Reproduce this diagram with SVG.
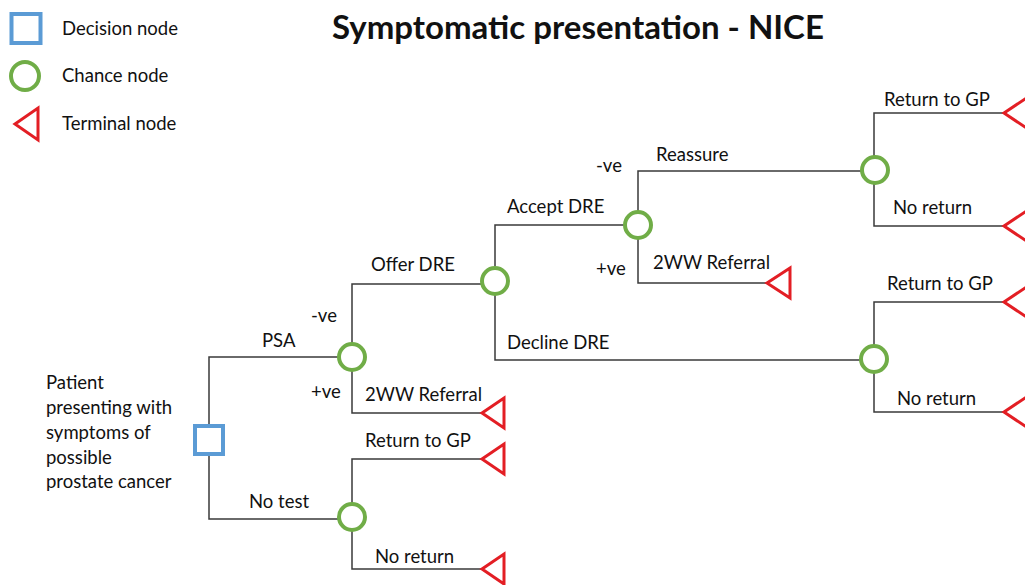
<svg xmlns="http://www.w3.org/2000/svg" width="1025" height="585" viewBox="0 0 1025 585">
<style>
.t{font-family:Lato,"Liberation Sans",sans-serif;font-size:18.5px;fill:#111}
.ttl{font-family:Lato,"Liberation Sans",sans-serif;font-size:33px;font-weight:bold;fill:#111}
.ln{fill:none;stroke:#3a3a3a;stroke-width:1.5}
.dec{fill:#fff;stroke:#5B9BD5;stroke-width:4}
.ch{fill:#fff;stroke:#70AD47;stroke-width:4}
.term{fill:#fff;stroke:#E31E24;stroke-width:3;stroke-linejoin:miter}
</style>
<rect width="1025" height="585" fill="#fff"/>
<text class="ttl" x="332" y="39">Symptomatic presentation - NICE</text>
<g id="legend">
<rect class="dec" x="11.5" y="14" width="29" height="29"/>
<circle class="ch" cx="25" cy="76" r="14"/>
<polygon class="term" points="15,124 38,108 38,140"/>
<text class="t" x="62" y="35">Decision node</text>
<text class="t" x="62" y="82">Chance node</text>
<text class="t" x="62" y="130">Terminal node</text>
</g>
<g id="connectors">
<path class="ln" d="M209,424 V357 H339 M209,456 V519 H339"/>
<path class="ln" d="M352,343 V284 H482 M352,371 V413 H482"/>
<path class="ln" d="M352,503 V459 H482 M352,531 V569 H482"/>
<path class="ln" d="M495,266 V225 H624 M495,295 V360 H860"/>
<path class="ln" d="M638,211 V171 H861 M638,239 V283 H766"/>
<path class="ln" d="M874,156 V113 H1004 M874,184 V226 H1004"/>
<path class="ln" d="M874,345 V302 H1004 M874,373 V412 H1004"/>
</g>
<g id="root">
<text class="t" x="46" y="389">Patient</text>
<text class="t" x="46" y="414">presenting with</text>
<text class="t" x="46" y="439">symptoms of</text>
<text class="t" x="46" y="464">possible</text>
<text class="t" x="46" y="488">prostate cancer</text>
<rect class="dec" x="195" y="426" width="28" height="28"/>
</g>
<g id="psa">
<circle class="ch" cx="352" cy="357" r="13"/>
<text class="t" x="262" y="347">PSA</text>
<text class="t" x="311" y="322">-ve</text>
<text class="t" x="311" y="398">+ve</text>
</g>
<g id="notest">
<circle class="ch" cx="352" cy="517" r="13"/>
<text class="t" x="249" y="508">No test</text>
</g>
<g id="psa-referral">
<polygon class="term" points="482,413 504,398 504,428"/>
<text class="t" x="365" y="401">2WW Referral</text>
</g>
<g id="notest-return">
<polygon class="term" points="482,459 504,444 504,474"/>
<text class="t" x="365" y="447">Return to GP</text>
</g>
<g id="notest-noreturn">
<polygon class="term" points="482,569 504,554 504,584"/>
<text class="t" x="375" y="563">No return</text>
</g>
<g id="offerdre">
<circle class="ch" cx="495" cy="281" r="13"/>
<text class="t" x="371" y="271">Offer DRE</text>
<text class="t" x="507" y="213">Accept DRE</text>
<text class="t" x="507" y="349">Decline DRE</text>
</g>
<g id="acceptdre">
<circle class="ch" cx="638" cy="225" r="13"/>
<text class="t" x="596" y="172">-ve</text>
<text class="t" x="596" y="275">+ve</text>
</g>
<g id="dre-referral">
<polygon class="term" points="767,283 790,268 790,298"/>
<text class="t" x="653" y="269">2WW Referral</text>
</g>
<g id="reassure">
<circle class="ch" cx="875" cy="170" r="13"/>
<text class="t" x="656" y="161">Reassure</text>
</g>
<g id="reassure-return">
<polygon class="term" points="1004,113 1028,97 1028,129"/>
<text class="t" x="884" y="106">Return to GP</text>
</g>
<g id="reassure-noreturn">
<polygon class="term" points="1004,226 1028,210 1028,242"/>
<text class="t" x="893" y="214">No return</text>
</g>
<g id="decline">
<circle class="ch" cx="874" cy="359" r="13"/>
</g>
<g id="decline-return">
<polygon class="term" points="1004,302 1028,286 1028,318"/>
<text class="t" x="887" y="290">Return to GP</text>
</g>
<g id="decline-noreturn">
<polygon class="term" points="1004,412 1028,396 1028,428"/>
<text class="t" x="897" y="405">No return</text>
</g>
</svg>
